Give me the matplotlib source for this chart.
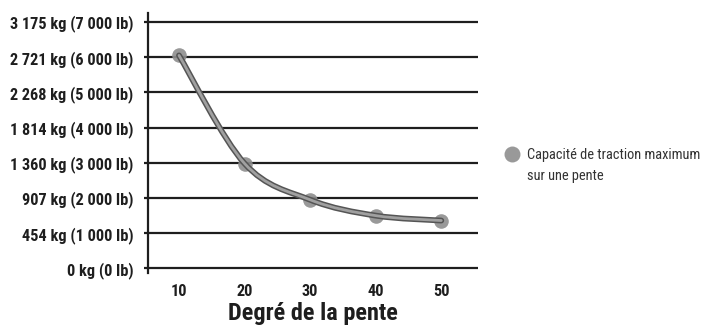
import matplotlib
matplotlib.use("Agg")
import matplotlib.pyplot as plt
import matplotlib.patheffects as pe
from matplotlib.path import Path
from matplotlib.patches import PathPatch
from matplotlib.lines import Line2D

# slope angle (degrees) vs maximum towing capacity (lb)
slope_deg = [10, 20, 30, 40, 50]
capacity_lb = [6050, 2980, 1950, 1500, 1360]

y_ticks = [0, 1000, 2000, 3000, 4000, 5000, 6000, 7000]
y_labels = [
    "0 kg (0 lb)",
    "454 kg (1 000 lb)",
    "907 kg (2 000 lb)",
    "1 360 kg (3 000 lb)",
    "1 814 kg (4 000 lb)",
    "2 268 kg (5 000 lb)",
    "2 721 kg (6 000 lb)",
    "3 175 kg (7 000 lb)",
]
x_label = "Degré de la pente"
legend_lines = ["Capacité de traction maximum", "sur une pente"]

FONT = ["Roboto Condensed", "Liberation Sans Narrow", "DejaVu Sans"]
plt.rcParams["font.family"] = FONT

W, H = 708, 329
fig = plt.figure(figsize=(W / 100, H / 100), dpi=100)
# axes box in pixels: left 148, right 478, top 13, bottom 273
ax = fig.add_axes([148 / W, 1 - 273 / H, (478 - 148) / W, (273 - 13) / H])

ax.set_xlim(5.27, 55.6)
ax.set_ylim(-130, 7255)

for s in ("top", "right", "bottom"):
    ax.spines[s].set_visible(False)
ax.spines["left"].set_linewidth(1.6)
ax.spines["left"].set_color("#1e1e1e")

for v in y_ticks:
    ax.axhline(v, color="#1e1e1e", lw=1.6, zorder=1)

ax.set_yticks(y_ticks)
ax.set_yticklabels(y_labels, fontweight="heavy", fontsize=11.7, color="#1e1e1e")
ax.tick_params(axis="y", length=3, width=1.6, color="#1e1e1e", pad=7.5)

ax.set_xticks(slope_deg)
ax.set_xticklabels([str(v) for v in slope_deg], fontweight="heavy",
                   fontsize=11.7, color="#1e1e1e")
ax.tick_params(axis="x", length=0, pad=8)
ax.set_xlabel(x_label, fontweight="bold", fontsize=17.5, color="#1e1e1e",
              labelpad=2)

# markers
ax.plot(slope_deg, capacity_lb, ls="none", marker="o", ms=10.5,
        mfc="#8e8e8e", mec="none", alpha=0.9, zorder=3)

# smooth curve through the points (Catmull-Rom as cubic Bezier segments)
pts = list(zip(slope_deg, capacity_lb))
verts = [pts[0]]
codes = [Path.MOVETO]
n = len(pts)
for i in range(n - 1):
    p0 = pts[i - 1] if i > 0 else pts[i]
    p1 = pts[i]
    p2 = pts[i + 1]
    p3 = pts[i + 2] if i + 2 < n else pts[i + 1]
    c1 = (p1[0] + (p2[0] - p0[0]) / 6, p1[1] + (p2[1] - p0[1]) / 6)
    c2 = (p2[0] - (p3[0] - p1[0]) / 6, p2[1] - (p3[1] - p1[1]) / 6)
    verts += [c1, c2, p2]
    codes += [Path.CURVE4] * 3
curve = PathPatch(Path(verts, codes), fill=False, edgecolor="#a0a0a0",
                  lw=2.0, zorder=4, capstyle="round",
                  path_effects=[pe.Stroke(linewidth=4.2, foreground="#555555"),
                                pe.Normal()])
ax.add_patch(curve)

# legend key, placed by hand in figure pixels
fig.add_artist(Line2D([512 / W], [1 - 154 / H], transform=fig.transFigure,
                      ls="none", marker="o", ms=11.5, mfc="#8e8e8e",
                      mec="none", alpha=0.9))
for line, base in zip(legend_lines, (159, 180)):
    fig.text(527 / W, 1 - base / H, line, ha="left", va="baseline",
             fontsize=10.4, color="#333333")

fig.savefig("out.png", dpi=100)
